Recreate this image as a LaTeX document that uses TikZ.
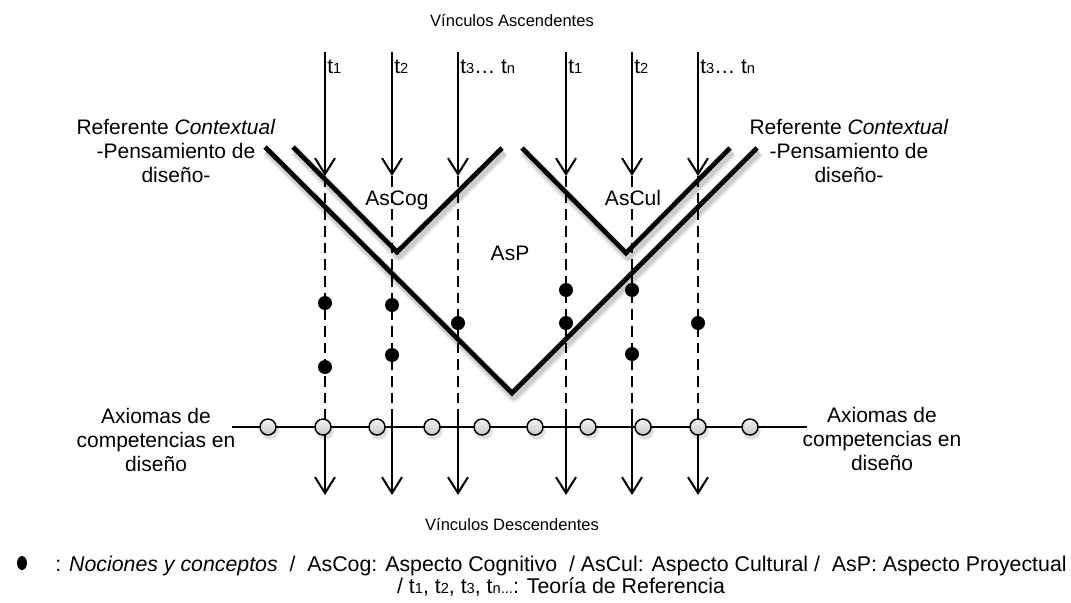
\documentclass[tikz,border=0pt]{standalone}
\usepackage{fontspec}
\setmainfont{Liberation Sans}
\usetikzlibrary{arrows.meta,shapes.geometric}
% small index digits sitting on the baseline (t1, t2, ...)
\newcommand\tidx[1]{{\fontsize{11}{11}\selectfont #1}}

\begin{document}
\begin{tikzpicture}[x=0.75pt,y=-0.75pt,
  txt/.style={inner sep=0pt, font=\fontsize{15.75}{18}\selectfont, align=center},
  smalltxt/.style={inner sep=0pt, font=\fontsize{12.4}{15}\selectfont},
  tlabel/.style={inner sep=0pt, anchor=west, font=\fontsize{15.75}{18}\selectfont},
  link/.style={line width=1.5pt, -{Straight Barb[length=12pt,width=15pt,line width=1.5pt]}},
  dashline/.style={line width=1.1pt, dash pattern=on 8pt off 4.5pt},
  vline/.style={line width=3.5pt, line join=miter, line cap=butt},
  vshade/.style={line width=#1, draw=black, opacity=0.07, line join=round, shift={(2,4)}},
  axis/.style={line width=1.5pt},
  axiom/.style={circle, draw=black, line width=1.1pt, minimum size=12pt, inner sep=0pt,
                top color=gray!8, bottom color=gray!45},
  axshade/.style={circle, fill=black, opacity=0.12, minimum size=13pt, inner sep=0pt},
  notion/.style={circle, fill=black, minimum size=10.5pt, inner sep=0pt},
  legdot/.style={ellipse, fill=black, minimum width=7.5pt, minimum height=10.5pt, inner sep=0pt}
]
\useasboundingbox (0,0) rectangle (1071,603);

% ---- column coordinates of the reference theories
\foreach \i/\x in {1/325,2/392,3/458,4/566,5/632,6/698}{
  \coordinate (top\i) at (\x,52);
  \coordinate (tipA\i) at (\x,176);
  \coordinate (dend\i) at (\x,410);
  \coordinate (tipB\i) at (\x,495);
}

% ---- dashed links through the aspects
\foreach \i in {1,...,6}{
  \draw[dashline] (tipA\i) -- (dend\i);
}

% ---- the three V shapes with a soft shadow
\foreach \w in {8pt,6pt,4.5pt}{
  \draw[vshade=\w] (265,147) -- (512,393) -- (757,148);
  \draw[vshade=\w] (293,147) -- (397,252) -- (502,148);
  \draw[vshade=\w] (522,148) -- (626,253) -- (730,148);
}
\draw[vline] (265,147) coordinate (pL) -- (512,393) coordinate (pB) -- (757,148) coordinate (pR);
\draw[vline] (293,147) coordinate (cL) -- (397,252) coordinate (cB) -- (502,148) coordinate (cR);
\draw[vline] (522,148) coordinate (uL) -- (626,253) coordinate (uB) -- (730,148) coordinate (uR);

% ---- ascending and descending links
\foreach \i in {1,...,6}{
  \draw[link] (top\i) -- (tipA\i);
  \draw[link] (dend\i) -- (tipB\i);
}

% ---- axis of design competences
\coordinate (axL) at (232,427);
\coordinate (axR) at (807,427);
\draw[axis] (axL) -- (axR);
\foreach \i/\x in {1/268,2/323,3/377,4/432,5/482,6/535,7/588,8/643,9/698,10/750}{
  \node[axshade] at (\x+2,431) {};
  \node[axiom] (ax\i) at (\x,427) {};
}

% ---- notions and concepts
\foreach \i/\x/\y in {1/325/303,2/325/367,3/392/305,4/392/355,5/458/323,
                      6/566/290,7/566/323,8/632/290,9/632/354,10/698/323}{
  \node[notion] (n\i) at (\x,\y) {};
}

% ---- theory labels
\node[tlabel] (t1) at (327,67) {t\tidx{1}};
\node[tlabel] (t2) at (394,67) {t\tidx{2}};
\node[tlabel] (t3) at (460,67) {t\tidx{3}… t\tidx{n}};
\node[tlabel] (t4) at (568,67) {t\tidx{1}};
\node[tlabel] (t5) at (634,67) {t\tidx{2}};
\node[tlabel] (t6) at (700,67) {t\tidx{3}… t\tidx{n}};

% ---- texts
\node[smalltxt] (asc) at (512,20) {Vínculos Ascendentes};
\node[smalltxt] (desc) at (512,524) {Vínculos Descendentes};
\node[txt] (refL) at (176,151) {Referente \textit{Contextual}\\-Pensamiento de\\diseño-};
\node[txt] (refR) at (849,151) {Referente \textit{Contextual}\\-Pensamiento de\\diseño-};
\node[txt] (axtL) at (156,440) {Axiomas de\\competencias en\\diseño};
\node[txt] (axtR) at (882,439) {Axiomas de\\competencias en\\diseño};
\node[txt] (ascog) at (397,200) {AsCog};
\node[txt] (ascul) at (633,198) {AsCul};
\node[txt] (asp) at (510,253) {AsP};

% ---- legend
\node[legdot] (legbullet) at (22,563) {};
\node[txt, font=\fontsize{16}{16.5}\selectfont] (legend) at (561,576)
  {: \textit{Nociones y conceptos}\ \ /\ \ AsCog: Aspecto Cognitivo\ \ / AsCul: Aspecto Cultural /\ \ AsP: Aspecto Proyectual\\
   / t\tidx{1}, t\tidx{2}, t\tidx{3}, t\tidx{n}\tidx{...}: Teoría de Referencia};
\end{tikzpicture}
\end{document}
